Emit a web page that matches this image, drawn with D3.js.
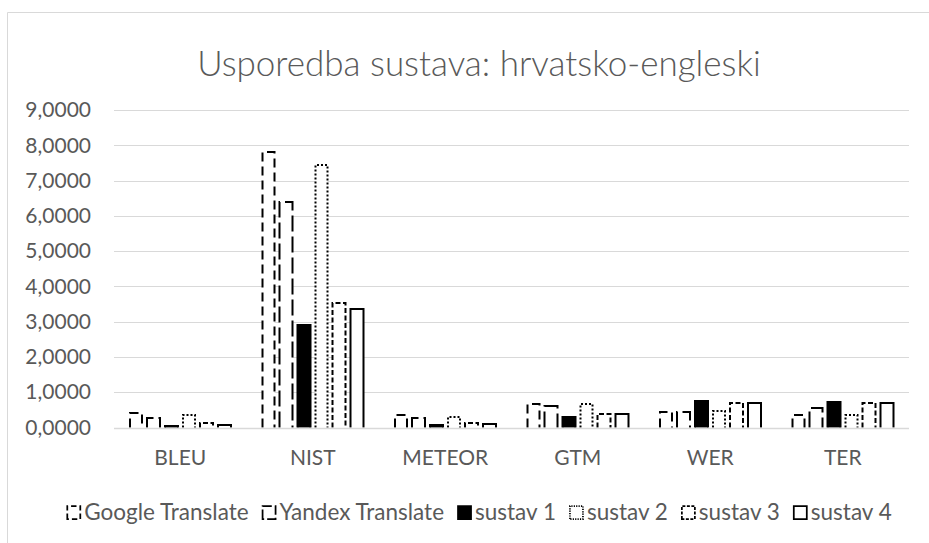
<!DOCTYPE html>
<html>
<head>
<meta charset="utf-8">
<script src="https://cdn.jsdelivr.net/npm/d3@7"></script>
<style>
  html, body { margin: 0; padding: 0; background: #fff; }
  svg { display: block; font-family: Lato, "Open Sans", sans-serif; }
</style>
</head>
<body>
<svg id="chart" width="929" height="543"></svg>
<script>
// Evaluation metrics (x categories) and compared systems (series)
const metrics = ["BLEU", "NIST", "METEOR", "GTM", "WER", "TER"];
const systems = ["Google Translate", "Yandex Translate", "sustav 1", "sustav 2", "sustav 3", "sustav 4"];

// Scores per system, in the order of `metrics`
const googleValues  = [0.44, 7.84, 0.37, 0.70, 0.46, 0.39];
const yandexValues  = [0.30, 6.43, 0.31, 0.65, 0.47, 0.57];
const sustav1Values = [0.07, 2.93, 0.10, 0.33, 0.78, 0.75];
const sustav2Values = [0.38, 7.46, 0.34, 0.69, 0.51, 0.38];
const sustav3Values = [0.15, 3.57, 0.16, 0.42, 0.73, 0.72];
const sustav4Values = [0.11, 3.38, 0.13, 0.40, 0.73, 0.72];

const yTicks = [0, 1, 2, 3, 4, 5, 6, 7, 8, 9];
const chartTitle = "Usporedba sustava: hrvatsko-engleski";

const seriesValues = [googleValues, yandexValues, sustav1Values, sustav2Values, sustav3Values, sustav4Values];

// Outline style of each series
const seriesStyle = {
  "Google Translate": { fill: "#fff", dash: "9 5",   width: 2 },
  "Yandex Translate": { fill: "#fff", dash: "16 5",  width: 2 },
  "sustav 1":         { fill: "#000", dash: null,    width: 2 },
  "sustav 2":         { fill: "#fff", dash: "2 2",   width: 2 },
  "sustav 3":         { fill: "#fff", dash: "5 2.5", width: 2 },
  "sustav 4":         { fill: "#fff", dash: null,    width: 2 }
};

const W = 929, H = 543;
const plot = { left: 114, right: 909, top: 110, bottom: 427.5 };
const centerX = 479;
const textColor = "#595959";
const gridColor = "#d9d9d9";

const locale = d3.formatLocale({ decimal: ",", thousands: ".", grouping: [3], currency: ["", " kn"] });
const fmt = locale.format(".4f");

const svg = d3.select("#chart");

svg.append("rect").attr("width", W).attr("height", H).attr("fill", "#fff");

// chart area border (continues past the right and bottom edges)
svg.append("path")
  .attr("d", `M7.5,${H + 2}V12.5H${W + 2}`)
  .attr("fill", "none")
  .attr("stroke", gridColor)
  .attr("stroke-width", 1);

// title
svg.append("text")
  .attr("x", centerX)
  .attr("y", 76)
  .attr("text-anchor", "middle")
  .attr("fill", textColor)
  .attr("font-size", 35)
  .attr("font-weight", 300)
  .text(chartTitle);

const x0 = d3.scaleBand().domain(metrics).range([plot.left, plot.right]).padding(0);
const x1 = d3.scaleBand().domain(systems).range([0, x0.bandwidth()])
  .paddingInner(0.17).paddingOuter(0.83);
const y = d3.scaleLinear().domain([0, 9]).range([plot.bottom, plot.top]);

// gridlines
svg.append("g")
  .selectAll("line")
  .data(yTicks.filter(d => d > 0))
  .join("line")
  .attr("x1", plot.left).attr("x2", plot.right)
  .attr("y1", d => Math.round(y(d)) + 0.5).attr("y2", d => Math.round(y(d)) + 0.5)
  .attr("stroke", gridColor)
  .attr("stroke-width", 1);

// y axis labels
const yAxis = d3.axisLeft(y).tickValues(yTicks).tickFormat(fmt).tickSize(0).tickPadding(0);
const yg = svg.append("g").attr("transform", `translate(91,0)`).call(yAxis);
yg.select(".domain").remove();
yg.selectAll("text")
  .attr("fill", textColor)
  .attr("font-size", 21)
  .attr("font-family", "Lato, 'Open Sans', sans-serif");

// bars
const groups = svg.append("g")
  .selectAll("g")
  .data(metrics)
  .join("g")
  .attr("transform", d => `translate(${x0(d)},0)`);

groups.selectAll("path")
  .data((m, i) => systems.map((s, k) => ({ system: s, value: seriesValues[k][i] })))
  .join("path")
  .attr("d", d => {
    const xl = Math.round(x1(d.system)) + 1;
    const xr = Math.round(x1(d.system) + x1.bandwidth()) - 1;
    const yt = Math.round(y(d.value)) + 1;
    const yb = plot.bottom;
    return `M${xl},${yb}V${yt}H${xr}V${yb}`;
  })
  .attr("fill", d => seriesStyle[d.system].fill)
  .attr("stroke", "#000")
  .attr("stroke-width", d => seriesStyle[d.system].width)
  .attr("stroke-dasharray", d => seriesStyle[d.system].dash);

// category axis line
svg.append("line")
  .attr("x1", plot.left).attr("x2", plot.right)
  .attr("y1", Math.round(plot.bottom) + 0.5).attr("y2", Math.round(plot.bottom) + 0.5)
  .attr("stroke", gridColor)
  .attr("stroke-width", 1.5);

// x axis labels
const xAxis = d3.axisBottom(x0).tickSize(0).tickPadding(0);
const xg = svg.append("g").attr("transform", `translate(0,450)`).call(xAxis);
xg.select(".domain").remove();
xg.selectAll("text")
  .attr("fill", textColor)
  .attr("font-size", 21)
  .attr("font-family", "Lato, 'Open Sans', sans-serif")
  .attr("dy", "0.72em");

// legend
const legend = svg.append("g");
const iconSize = 14, iconGap = 4, itemGap = 13, legendY = 520;
const items = legend.selectAll("g").data(systems).join("g");
items.append("text")
  .attr("x", iconSize + iconGap)
  .attr("y", legendY)
  .attr("fill", textColor)
  .attr("font-size", 22.5)
  .text(d => d);
items.append("path")
  .attr("d", `M1,${legendY - 1}V${legendY - iconSize}H${iconSize}V${legendY - 1}Z`)
  .attr("fill", d => seriesStyle[d].fill)
  .attr("stroke", "#000")
  .attr("stroke-width", 1.75)
  .attr("stroke-dasharray", d => seriesStyle[d].dash ? seriesStyle[d].dash.split(" ").map(v => v * 0.6).join(" ") : null);

let widths = [];
items.each(function () {
  widths.push(iconSize + iconGap + d3.select(this).select("text").node().getComputedTextLength());
});
const total = d3.sum(widths) + itemGap * (widths.length - 1);
let cx = centerX - total / 2;
items.attr("transform", (d, i) => {
  const t = `translate(${cx},0)`;
  cx += widths[i] + itemGap;
  return t;
});
</script>
</body>
</html>
